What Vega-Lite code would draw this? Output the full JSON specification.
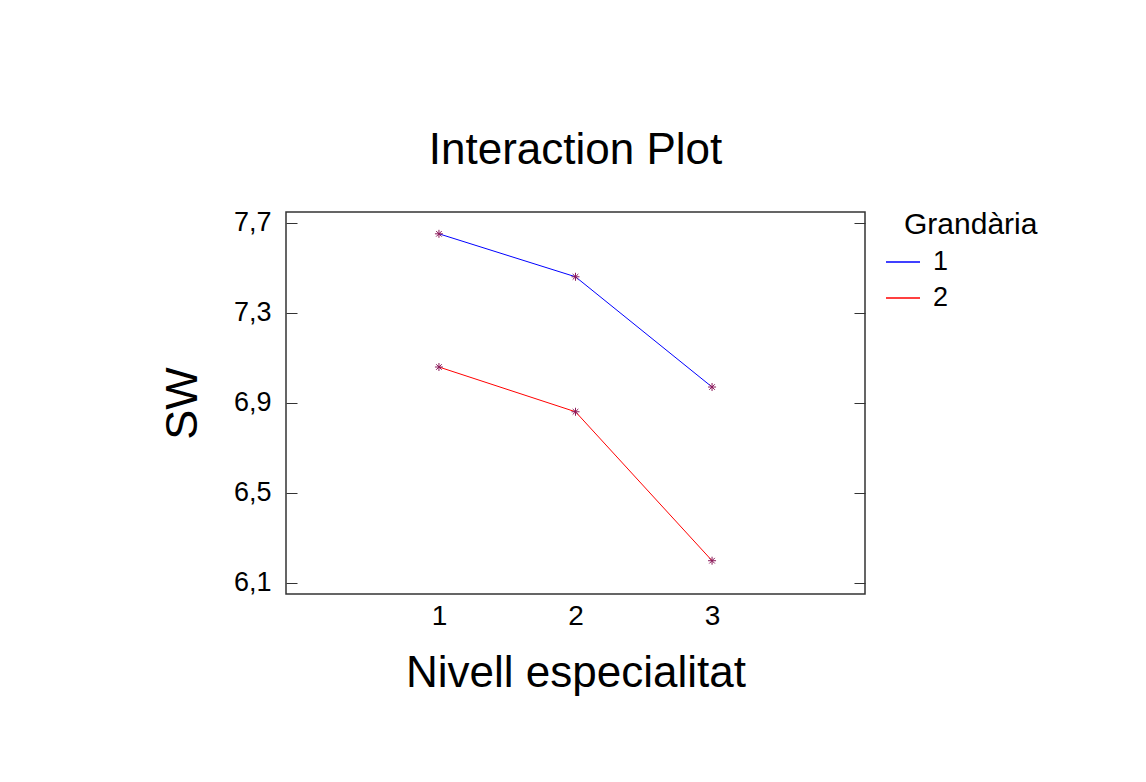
{
  "$schema": "https://vega.github.io/schema/vega-lite/v6.json",
  "width": 579,
  "height": 382,
  "autosize": "none",
  "padding": {"left": 286, "top": 212, "right": 281, "bottom": 188},
  "background": "white",
  "title": {"text": "Interaction Plot", "fontSize": 44, "font": "Liberation Sans", "fontWeight": "normal", "color": "black", "offset": 36, "anchor": "middle"},
  "data": {"values": [
    {"Nivell": 1, "SW": 7.651, "Grandaria": "1"},
    {"Nivell": 2, "SW": 7.460, "Grandaria": "1"},
    {"Nivell": 3, "SW": 6.970, "Grandaria": "1"},
    {"Nivell": 1, "SW": 7.059, "Grandaria": "2"},
    {"Nivell": 2, "SW": 6.860, "Grandaria": "2"},
    {"Nivell": 3, "SW": 6.198, "Grandaria": "2"}
  ]},
  "layer": [
    {
      "mark": {"type": "line", "strokeWidth": 1},
      "encoding": {
        "x": {"field": "Nivell", "type": "quantitative", "scale": {"domain": [-0.12, 4.12], "nice": false, "zero": false},
          "axis": {"values": [1, 2, 3], "format": "d", "ticks": false, "domain": false, "grid": false, "labelFontSize": 28, "labelPadding": 8, "title": "Nivell especialitat", "titleFontSize": 44, "titleFontWeight": "normal", "titlePadding": 21}},
        "y": {"field": "SW", "type": "quantitative", "scale": {"domain": [6.05, 7.748], "nice": false, "zero": false},
          "axis": {"values": [6.1, 6.5, 6.9, 7.3, 7.7], "labelExpr": "replace(format(datum.value, '.1f'), '.', ',')", "tickSize": -11, "tickColor": "#333", "domain": false, "grid": false, "labelFontSize": 27, "labelPadding": 26, "title": "SW", "titleFontSize": 45, "titleFontWeight": "normal", "titlePadding": 28}},
        "color": {"field": "Grandaria", "type": "nominal", "scale": {"domain": ["1", "2"], "range": ["#0000ff", "#ff0000"]},
          "legend": {"title": "Grandària", "orient": "none", "legendX": 618, "legendY": -2, "symbolType": "stroke", "symbolSize": 1156, "symbolStrokeWidth": 1.5, "symbolOpacity": 1, "symbolOffset": -19, "titleFontSize": 30, "titleFontWeight": "normal", "labelFontSize": 27, "rowPadding": 5, "labelOffset": 12, "titlePadding": 4}}
      }
    },
    {
      "mark": {"type": "point", "shape": "M-1,0L1,0M0,-1L0,1M-0.7,-0.7L0.7,0.7M-0.7,0.7L0.7,-0.7", "filled": false, "strokeWidth": 1, "size": 64, "color": "#8b1a5a", "opacity": 1},
      "encoding": {
        "x": {"field": "Nivell", "type": "quantitative"},
        "y": {"field": "SW", "type": "quantitative", "axis": {"orient": "right", "values": [6.1, 6.5, 6.9, 7.3, 7.7], "labels": false, "tickSize": -11, "tickColor": "#333", "domain": false, "grid": false, "title": null}},
        "detail": {"field": "Grandaria", "type": "nominal"}
      }
    }
  ],
  "resolve": {"scale": {"y": "shared"}, "axis": {"y": "independent"}},
  "config": {
    "font": "Liberation Sans",
    "view": {"stroke": "#333", "strokeWidth": 1.5},
    "axis": {"labelColor": "black", "titleColor": "black", "labelFont": "Liberation Sans", "titleFont": "Liberation Sans"},
    "legend": {"labelColor": "black", "titleColor": "black", "labelFont": "Liberation Sans", "titleFont": "Liberation Sans"}
  }
}
